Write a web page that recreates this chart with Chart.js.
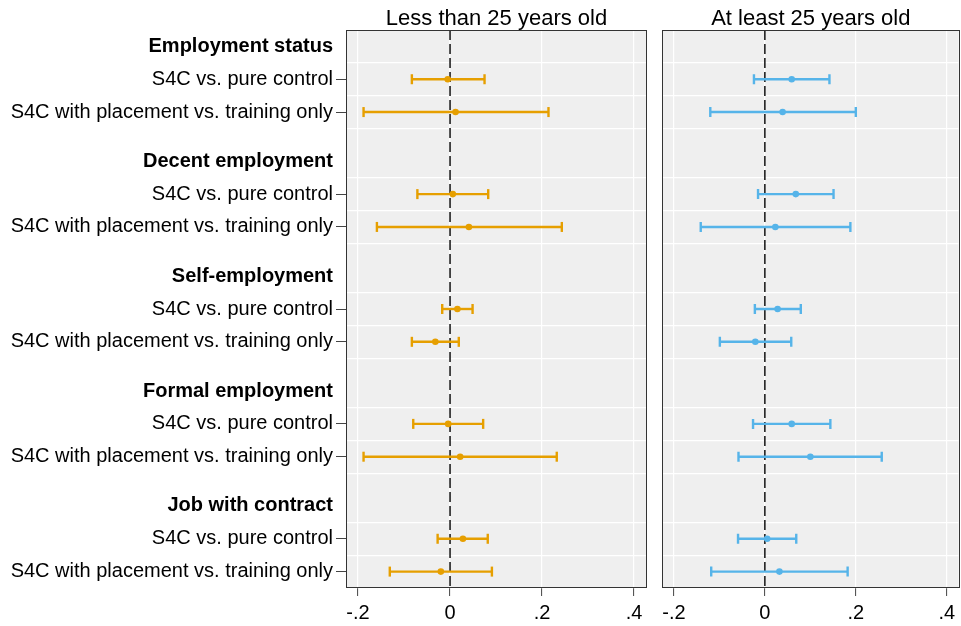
<!DOCTYPE html>
<html>
<head>
<meta charset="utf-8">
<script src="https://cdn.jsdelivr.net/npm/chart.js@4.4.1/dist/chart.umd.min.js"></script>
<style>
  body { margin: 0; background: #fff; overflow: hidden; }
  #wrap { position: relative; width: 961px; height: 626px; overflow: hidden; }
  canvas { position: absolute; top: 0; }
  #young { left: 0; }
  #older { left: 655px; }
</style>
</head>
<body>
<div id="wrap">
  <canvas id="young" width="656" height="626"></canvas>
  <canvas id="older" width="311" height="626"></canvas>
</div>
<script>
// outcomes and comparisons (one row per comparison, grouped by outcome)
const groups = ['Employment status', 'Decent employment', 'Self-employment', 'Formal employment', 'Job with contract'];
const comparisons = ['S4C vs. pure control', 'S4C with placement vs. training only'];

// Less than 25 years old
const youngEst = [-0.005, 0.012, 0.006, 0.041, 0.016, -0.032, -0.004, 0.022, 0.028, -0.020];
const youngLo  = [-0.083, -0.188, -0.071, -0.159, -0.017, -0.083, -0.080, -0.188, -0.027, -0.131];
const youngHi  = [0.075, 0.214, 0.083, 0.243, 0.049, 0.019, 0.072, 0.232, 0.082, 0.091];

// At least 25 years old
const olderEst = [0.059, 0.039, 0.068, 0.023, 0.028, -0.021, 0.059, 0.100, 0.005, 0.032];
const olderLo  = [-0.024, -0.120, -0.015, -0.141, -0.022, -0.099, -0.026, -0.058, -0.059, -0.118];
const olderHi  = [0.142, 0.200, 0.151, 0.188, 0.079, 0.058, 0.144, 0.257, 0.069, 0.182];

const xTicks = [-0.2, 0, 0.2, 0.4];
const xTickLabels = ['-.2', '0', '.2', '.4'];

const FONT = "'Liberation Sans', Arial, sans-serif";
const X_MIN = -0.224, X_MAX = 0.426;
const Y_MAX = 17;

// row layout: heading, then the two comparisons, groups 3.5 rows apart
function rowPos(i) { return 3.5 * Math.floor(i / 2) + 1.5 + (i % 2); }
function headPos(g) { return 3.5 * g + 0.5; }

const yLabels = [];
const yGrid = [];
groups.forEach((g, gi) => {
    yLabels.push({ pos: headPos(gi), text: g, head: true });
    comparisons.forEach((c, ci) => {
        yLabels.push({ pos: rowPos(gi * 2 + ci), text: c, head: false });
    });
    yGrid.push(3.5 * gi + 1, 3.5 * gi + 2, 3.5 * gi + 3);
});

const framePlugin = {
    id: 'frame',
    beforeDraw(chart) {
        const a = chart.chartArea, c = chart.ctx;
        c.save();
        c.fillStyle = '#efefef';
        c.fillRect(a.left, a.top, a.right - a.left, a.bottom - a.top);
        c.restore();
    },
    afterDraw(chart) {
        const a = chart.chartArea, c = chart.ctx;
        c.save();
        c.strokeStyle = '#333';
        c.lineWidth = 1;
        c.strokeRect(Math.round(a.left) - 0.5, Math.round(a.top) + 0.5,
                     Math.round(a.right - a.left) + 1, Math.round(a.bottom - a.top) - 1);
        c.restore();
    }
};

function makePanel(id, title, est, lo, hi, color, withLabels, padLeft, padRight) {
    const bars = est.map((e, i) => ({
        type: 'scatter',
        showLine: true,
        data: [{ x: lo[i], y: rowPos(i) }, { x: hi[i], y: rowPos(i) }],
        borderColor: color,
        borderWidth: 2.4,
        pointStyle: 'line',
        rotation: 90,
        pointRadius: 5,
        pointBorderColor: color,
        pointBorderWidth: 2.4
    }));

    const points = {
        type: 'scatter',
        data: est.map((e, i) => ({ x: e, y: rowPos(i) })),
        pointStyle: 'circle',
        pointRadius: 3.3,
        backgroundColor: color,
        borderColor: color,
        borderWidth: 0
    };

    const zero = {
        type: 'scatter',
        showLine: true,
        data: [{ x: 0, y: 0 }, { x: 0, y: Y_MAX }],
        borderColor: '#000',
        borderWidth: 1.4,
        borderDash: [10, 4],
        pointRadius: 0
    };

    const scales = {
        x: {
            type: 'linear', position: 'bottom', min: X_MIN, max: X_MAX,
            afterBuildTicks: s => { s.ticks = xTicks.map(v => ({ value: v })); },
            afterFit: s => { s.height = 38; },
            ticks: {
                autoSkip: false, maxRotation: 0, padding: 5, color: '#000',
                font: { family: FONT, size: 20 },
                callback: (v, i) => xTickLabels[i]
            },
            grid: { color: '#fff', lineWidth: 1.2, tickColor: '#444', tickLength: 8, tickWidth: 1 },
            border: { display: false }
        },
        x2: {
            type: 'linear', position: 'top', min: X_MIN, max: X_MAX,
            afterFit: s => { s.height = 30; },
            ticks: { display: false },
            grid: { display: false },
            border: { display: false },
            title: {
                display: true, text: title, color: '#000',
                font: { family: FONT, size: 22 },
                padding: { top: 6, bottom: 0 }
            }
        },
        y: {
            type: 'linear', position: 'left', reverse: true, min: 0, max: Y_MAX,
            afterBuildTicks: s => { s.ticks = yGrid.map(v => ({ value: v })); },
            afterFit: s => { s.width = 0; },
            ticks: { display: false, autoSkip: false },
            grid: { color: '#fff', lineWidth: 1.2, drawTicks: false },
            border: { display: false }
        }
    };

    if (withLabels) {
        scales.yl = {
            type: 'linear', position: 'left', reverse: true, min: 0, max: Y_MAX,
            afterBuildTicks: s => { s.ticks = yLabels.map(t => ({ value: t.pos })); },
            afterFit: s => { s.width = 347; },
            ticks: {
                autoSkip: false, padding: 3, color: '#000',
                callback: (v, i) => yLabels[i].text,
                font: ctx => ({
                    family: FONT, size: 20,
                    weight: (yLabels[ctx.index] && yLabels[ctx.index].head) ? 'bold' : 'normal'
                })
            },
            grid: {
                drawOnChartArea: false, tickLength: 11, tickWidth: 1,
                tickColor: ctx => (yLabels[ctx.index] && yLabels[ctx.index].head) ? 'rgba(0,0,0,0)' : '#444'
            },
            border: { display: false }
        };
    }

    return new Chart(document.getElementById(id).getContext('2d'), {
        type: 'scatter',
        data: { datasets: [points, ...bars, zero] },
        options: {
            responsive: false,
            animation: false,
            devicePixelRatio: 1,
            events: [],
            layout: { padding: { left: padLeft, right: padRight, top: 0, bottom: 0 } },
            plugins: { legend: { display: false }, tooltip: { enabled: false } },
            scales: scales
        },
        plugins: [framePlugin]
    });
}

makePanel('young', 'Less than 25 years old', youngEst, youngLo, youngHi, '#E69F00', true, 0, 10);
makePanel('older', 'At least 25 years old', olderEst, olderLo, olderHi, '#56B4E9', false, 8, 4);
</script>
</body>
</html>
